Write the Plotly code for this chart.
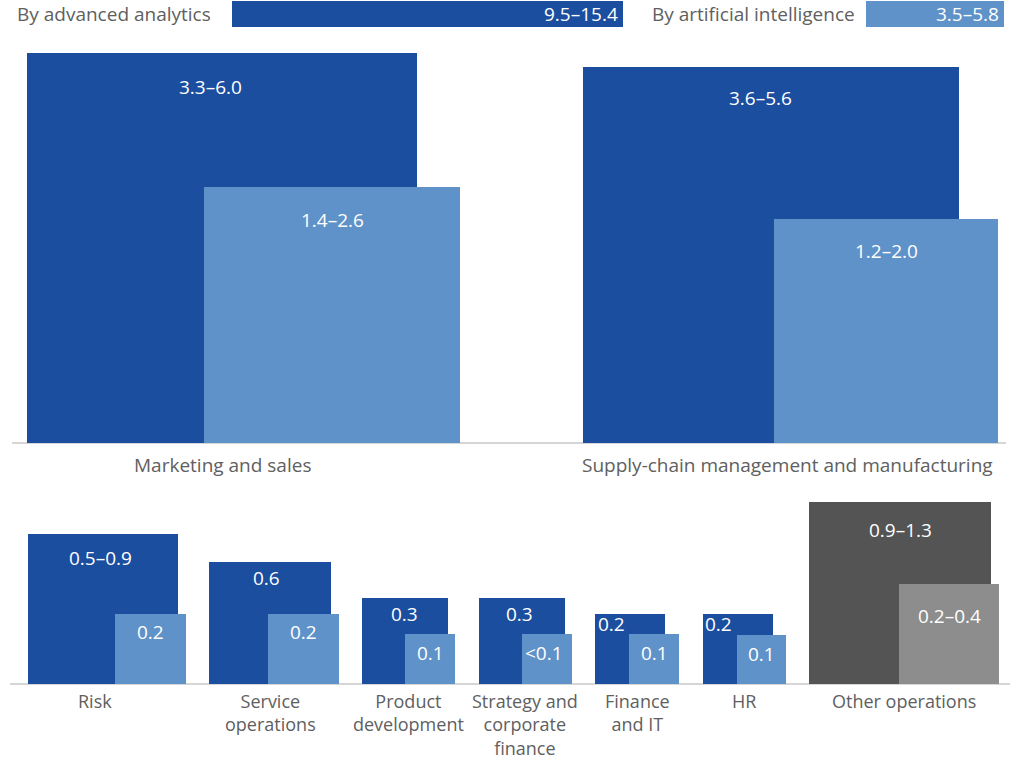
import plotly.graph_objects as go

# ---------------- DATA ----------------
legend_names = ["By advanced analytics", "By artificial intelligence"]
legend_totals = ["9.5–15.4", "3.5–5.8"]

top_categories = ["Marketing and sales", "Supply-chain management and manufacturing"]
top_aa_labels = ["3.3–6.0", "3.6–5.6"]
top_ai_labels = ["1.4–2.6", "1.2–2.0"]
# square side (area-encoded value), chart units
top_aa_side = [3.90, 3.76]
top_ai_side = [2.56, 2.24]

bottom_categories = ["Risk", "Service<br>operations", "Product<br>development",
                     "Strategy and<br>corporate<br>finance", "Finance<br>and IT", "HR",
                     "Other operations"]
bottom_aa_labels = ["0.5–0.9", "0.6", "0.3", "0.3", "0.2", "0.2", "0.9–1.3"]
bottom_ai_labels = ["0.2", "0.2", "0.1", "<0.1", "0.1", "0.1", "0.2–0.4"]
bottom_aa_side = [1.503, 1.224, 0.863, 0.864, 0.697, 0.703, 1.82]
bottom_ai_side = [0.704, 0.703, 0.50, 0.50, 0.50, 0.493, 1.003]

# ---------------- STYLE / LAYOUT ----------------
W, H = 1019, 757
SCALE = 100.0  # px per unit of side
DARK = "#1b4e9f"
LIGHT = "#5f92c8"
GDARK = "#545454"
GLIGHT = "#8d8d8d"
TXT = "#606060"
FONT = "Open Sans, Liberation Sans, Arial, sans-serif"

top_base = H - 443
bot_base = H - 684

top_start = [27, 583]
top_overhang = [43, 39]
top_label_dx = [0, 16]
top_aa_txt_dx = [-12, -11]
top_aa_txt_dy = [34, 31]
top_ai_txt_dy = [33, 32]

bot_start0 = 28
bot_gap = 23.3
bot_overhang = [7.4, 7.3, 7, 7, 14.3, 13, 8]
bot_aa_txt_dx = [-3, -4, -1, -2, -19, -19, 0]
bot_aa_txt_dy = [24, 16, 16, 16, 10, 10, 28]
bot_ai_txt_dx = [0, 0, 0, -3, 0, 0, 0]
bot_ai_txt_dy = [18, 18, 19, 19, 19, 19, 32]
bot_label_dx = [-12, -3, 0, 0, 0, 0, 0]
bot_aa_colors = [DARK] * 6 + [GDARK]
bot_ai_colors = [LIGHT] * 6 + [GLIGHT]


def layout_row(starts, aa_side, ai_side, overhang):
    aa_l, ai_l = [], []
    for s, a, b, o in zip(starts, aa_side, ai_side, overhang):
        aa_l.append(s)
        ai_l.append(s + a * SCALE + o - b * SCALE)
    return aa_l, ai_l


top_aa_left, top_ai_left = layout_row(top_start, top_aa_side, top_ai_side, top_overhang)

bot_starts = []
x = bot_start0
for a, o in zip(bottom_aa_side, bot_overhang):
    bot_starts.append(x)
    x = x + a * SCALE + o + bot_gap
bot_aa_left, bot_ai_left = layout_row(bot_starts, bottom_aa_side, bottom_ai_side, bot_overhang)

fig = go.Figure()


def add_squares(lefts, sides, base, colors):
    fig.add_trace(go.Bar(
        x=[l + s * SCALE / 2 for l, s in zip(lefts, sides)],
        y=[s * SCALE for s in sides],
        width=[s * SCALE for s in sides],
        base=[base] * len(sides),
        marker=dict(color=colors, line=dict(width=0)),
        hoverinfo="skip", showlegend=False,
    ))


add_squares(top_aa_left, top_aa_side, top_base, [DARK] * 2)
add_squares(top_ai_left, top_ai_side, top_base, [LIGHT] * 2)
add_squares(bot_aa_left, bottom_aa_side, bot_base, bot_aa_colors)
add_squares(bot_ai_left, bottom_ai_side, bot_base, bot_ai_colors)

# legend bars
leg_left = [232, 866]
leg_len = [391, 138]
leg_h = 26
leg_bottom = H - 27
fig.add_trace(go.Bar(
    x=[l + w / 2 for l, w in zip(leg_left, leg_len)],
    y=[leg_h] * 2, width=leg_len, base=[leg_bottom] * 2,
    marker=dict(color=[DARK, LIGHT], line=dict(width=0)),
    hoverinfo="skip", showlegend=False,
))

ann = []
leg_text_x = [15, 650]
for i in range(2):
    ann.append(dict(x=leg_text_x[i], y=leg_bottom + leg_h / 2, text=legend_names[i],
                    xanchor="left", yanchor="middle", showarrow=False,
                    font=dict(size=19, color=TXT, family=FONT)))
    ann.append(dict(x=leg_left[i] + leg_len[i] - 3, y=leg_bottom + leg_h / 2,
                    text=legend_totals[i], xanchor="right", yanchor="middle",
                    showarrow=False, font=dict(size=19, color="white", family=FONT)))


def value_labels(lefts, sides, labels, dx, dy, base, size):
    for l, s, t, ddx, ddy in zip(lefts, sides, labels, dx, dy):
        ann.append(dict(x=l + s * SCALE / 2 + ddx, y=base + s * SCALE - ddy, text=t,
                        xanchor="center", yanchor="middle", showarrow=False,
                        font=dict(size=size, color="white", family=FONT)))


value_labels(top_aa_left, top_aa_side, top_aa_labels, top_aa_txt_dx, top_aa_txt_dy, top_base, 19)
value_labels(top_ai_left, top_ai_side, top_ai_labels, [0, 0], top_ai_txt_dy, top_base, 19)
value_labels(bot_aa_left, bottom_aa_side, bottom_aa_labels, bot_aa_txt_dx, bot_aa_txt_dy, bot_base, 19)
value_labels(bot_ai_left, bottom_ai_side, bottom_ai_labels, bot_ai_txt_dx, bot_ai_txt_dy, bot_base, 19)

# category labels
for i, c in enumerate(top_categories):
    cx = top_aa_left[i] + top_aa_side[i] * SCALE / 2 + top_label_dx[i]
    ann.append(dict(x=cx, y=top_base - 22, text=c, xanchor="center", yanchor="middle",
                    showarrow=False, font=dict(size=19, color=TXT, family=FONT)))
for i, c in enumerate(bottom_categories):
    right = bot_ai_left[i] + bottom_ai_side[i] * SCALE
    cx = (bot_aa_left[i] + right) / 2 + bot_label_dx[i]
    ann.append(dict(x=cx, y=bot_base - 3, text=c, xanchor="center", yanchor="top",
                    showarrow=False, align="center",
                    font=dict(size=18, color=TXT, family=FONT)))

shapes = [
    dict(type="line", x0=12, x1=1006, y0=top_base, y1=top_base,
         line=dict(color="#d6d6d6", width=2), layer="below"),
    dict(type="line", x0=10, x1=1010, y0=bot_base, y1=bot_base,
         line=dict(color="#d6d6d6", width=2), layer="below"),
]

fig.update_layout(
    width=W, height=H, autosize=False,
    margin=dict(l=0, r=0, t=0, b=0),
    paper_bgcolor="white", plot_bgcolor="white",
    barmode="overlay", bargap=0,
    xaxis=dict(range=[0, W], visible=False, fixedrange=True),
    yaxis=dict(range=[0, H], visible=False, fixedrange=True),
    annotations=ann, shapes=shapes,
    font=dict(family=FONT),
)

fig.write_html("out.html", config={"displayModeBar": False},
               post_script="document.body.style.margin='0px';document.body.style.overflow='hidden';")
